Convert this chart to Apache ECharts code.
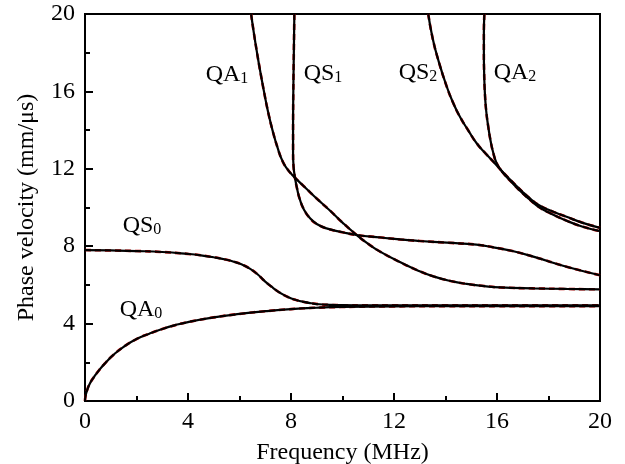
<!DOCTYPE html>
<html>
<head>
<meta charset="utf-8">
<script src="https://cdn.jsdelivr.net/npm/echarts@6/dist/echarts.min.js"></script>
<style>
  html, body { margin: 0; padding: 0; background: #fff; }
  #chart { width: 625px; height: 464px; }
</style>
</head>
<body>
<div id="chart"></div>
<script>
// dispersion curves, frequency (MHz) vs phase velocity (mm/us)
const qa0X = [0, 0.02, 0.08, 0.19, 0.36, 0.58, 0.8, 1.1, 1.5, 2.0, 2.5, 3.0, 3.5, 4.0, 5.0, 6.0, 7.0, 8.0, 9.0, 10, 12, 14, 16, 18, 20];
const qa0Y = [0, 0.25, 0.55, 0.91, 1.26, 1.65, 1.98, 2.38, 2.8, 3.2, 3.48, 3.72, 3.92, 4.08, 4.32, 4.5, 4.64, 4.75, 4.82, 4.86, 4.89, 4.9, 4.9, 4.9, 4.9];

const qs0X = [0, 1, 2, 3, 4, 4.5, 5, 5.5, 5.8, 6.1, 6.4, 6.7, 7.0, 7.3, 7.6, 7.9, 8.2, 8.5, 8.8, 9.1, 9.5, 10, 11, 12, 14, 16, 20];
const qs0Y = [7.8, 7.78, 7.75, 7.7, 7.6, 7.53, 7.43, 7.3, 7.19, 7.05, 6.84, 6.55, 6.17, 5.85, 5.57, 5.36, 5.22, 5.12, 5.05, 5.0, 4.97, 4.95, 4.94, 4.94, 4.94, 4.94, 4.94];

const qa1X = [6.45, 6.56, 6.68, 6.81, 6.95, 7.1, 7.28, 7.5, 7.68, 7.85, 8.05, 8.3, 8.6, 8.87, 9.2, 9.5, 10.0, 10.55, 11.0, 11.46, 12.23, 12.9, 13.53, 14.2, 14.82, 15.5, 16.12, 17.41, 18.7, 20];
const qa1Y = [20, 19, 18, 17, 16, 15, 14, 13, 12.37, 12.0, 11.68, 11.35, 10.97, 10.62, 10.22, 9.86, 9.22, 8.58, 8.12, 7.72, 7.18, 6.76, 6.44, 6.2, 6.05, 5.94, 5.87, 5.82, 5.79, 5.77];

const qs1X = [8.13, 8.11, 8.09, 8.08, 8.08, 8.1, 8.16, 8.24, 8.35, 8.5, 8.74, 9.0, 9.38, 10.0, 10.55, 11.5, 12.23, 13.0, 14.05, 15.2, 15.86, 16.6, 17.41, 18.7, 20];
const qs1Y = [20, 18, 16, 14, 12.8, 12.1, 11.5, 10.95, 10.39, 9.9, 9.44, 9.15, 8.92, 8.72, 8.58, 8.45, 8.35, 8.27, 8.18, 8.08, 7.94, 7.75, 7.46, 6.94, 6.5];

const qs2X = [13.33, 13.5, 13.72, 14.05, 14.3, 14.56, 14.9, 15.21, 15.55, 15.92, 16.25, 16.63, 17.0, 17.3, 17.6, 18.0, 18.7, 19.3, 20];
const qs2Y = [20, 18.75, 17.62, 16.24, 15.4, 14.69, 13.95, 13.32, 12.8, 12.28, 11.8, 11.28, 10.8, 10.45, 10.15, 9.88, 9.52, 9.22, 8.95];

const qa2X = [15.51, 15.49, 15.49, 15.5, 15.53, 15.58, 15.66, 15.75, 15.86, 15.99, 16.2, 16.63, 17.0, 17.3, 17.6, 18.0, 18.7, 19.3, 20];
const qa2Y = [20, 19, 18, 17, 15.9, 15.0, 14.18, 13.45, 12.8, 12.28, 11.85, 11.22, 10.73, 10.38, 10.05, 9.75, 9.32, 9.02, 8.78];

const curves = [
  [qa0X, qa0Y], [qs0X, qs0Y], [qa1X, qa1Y], [qs1X, qs1Y], [qs2X, qs2Y], [qa2X, qa2Y]
];

// mode labels: main text + subscript
const modeNames = ["QA", "QS", "QA", "QS", "QS", "QA"];
const modeSubs = ["0", "0", "1", "1", "2", "2"];
const labelPos = [[141, 310], [142, 226], [227, 75], [323, 74], [418, 73], [515, 73]];

const xTicks = [0, 4, 8, 12, 16, 20];
const yTicks = [0, 4, 8, 12, 16, 20];

const FONT = "'Liberation Serif', 'Times New Roman', serif";
const FS = 24;

const chart = echarts.init(document.getElementById("chart"));

const zip = (xs, ys) => xs.map((x, i) => [x, ys[i]]);

const series = [];
curves.forEach(([xs, ys]) => {
  // red dashed underlay, peeks out at the edges like the original
  series.push({
    type: "line",
    data: zip(xs, ys),
    showSymbol: false,
    smooth: 0.5,
    silent: true,
    lineStyle: { color: "#c00000", width: 2.6, type: [6, 4] },
    z: 2,
  });
  series.push({
    type: "line",
    data: zip(xs, ys),
    showSymbol: false,
    smooth: 0.5,
    silent: true,
    lineStyle: { color: "#000", width: 2.2 },
    z: 3,
  });
});

const axisCommon = {
  type: "value",
  min: 0,
  max: 20,
  interval: 4,
  axisLine: { show: true, onZero: false, lineStyle: { color: "#000", width: 2 } },
  axisTick: { show: true, inside: true, length: 8, lineStyle: { color: "#000", width: 2 } },
  minorTick: { show: true, splitNumber: 2, length: 5, lineStyle: { color: "#000", width: 2 } },
  splitLine: { show: false },
  nameLocation: "middle",
  nameTextStyle: { color: "#000", fontFamily: FONT, fontSize: FS },
  axisLabel: {
    color: "#000",
    fontFamily: FONT,
    fontSize: FS,
    formatter: (v) => (xTicks.includes(v) ? String(v) : ""),
  },
};

chart.setOption({
  animation: false,
  backgroundColor: "#fff",
  grid: {
    left: 85,
    right: 25,
    top: 14,
    bottom: 63,
    outerBoundsMode: "none",
    containLabel: false,
    show: true,
    borderColor: "#000",
    borderWidth: 2,
    backgroundColor: "transparent",
  },
  xAxis: {
    ...axisCommon,
    name: "Frequency (MHz)",
    nameGap: 40,
    axisLabel: { ...axisCommon.axisLabel, margin: 9 },
  },
  yAxis: {
    ...axisCommon,
    name: "Phase velocity (mm/\u03bcs)",
    nameGap: 46,
    axisLabel: {
      ...axisCommon.axisLabel,
      margin: 10,
      formatter: (v) => (yTicks.includes(v) ? String(v) : ""),
    },
  },
  series: series,
  graphic: modeNames.map((name, i) => ({
    type: "text",
    x: labelPos[i][0],
    y: labelPos[i][1],
    silent: true,
    style: {
      text: "{m|" + name + "}{s|" + modeSubs[i] + "}",
      align: "center",
      verticalAlign: "middle",
      fill: "#000",
      rich: {
        m: { fontFamily: FONT, fontSize: FS, fill: "#000", verticalAlign: "bottom" },
        s: { fontFamily: FONT, fontSize: 16, fill: "#000", verticalAlign: "bottom" },
      },
    },
  })),
});
</script>
</body>
</html>
